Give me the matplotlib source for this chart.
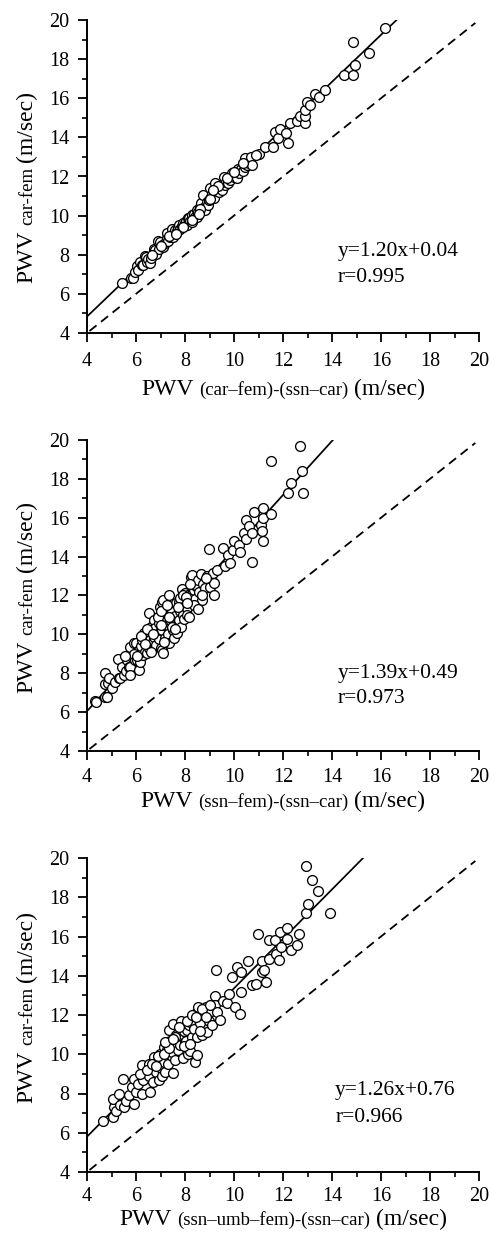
import matplotlib
matplotlib.use("Agg")
import matplotlib.pyplot as plt
import matplotlib.transforms as mtransforms
from matplotlib.ticker import MultipleLocator
import numpy as np

plt.rcParams['font.family'] = ['Liberation Serif', 'DejaVu Serif']

# ---------------- data ----------------
p1_x = [5.43, 5.81, 5.86, 5.97, 6.04, 6.10, 6.18, 6.23, 6.30, 6.38, 6.41, 6.45, 6.50, 6.57, 6.62,
        6.72, 6.78, 6.82, 6.88, 6.95, 6.98, 7.06, 7.11, 7.18, 7.25, 7.27, 7.32, 7.40, 7.45, 7.47,
        7.52, 7.55, 7.61, 7.68, 7.73, 7.74, 7.80, 7.86, 7.92, 8.01, 8.05, 8.07, 8.12, 8.15, 8.20,
        8.27, 8.29, 8.35, 8.40, 8.48, 8.49, 8.55, 8.62, 8.67, 8.72, 8.75, 8.83, 8.88, 8.92, 8.97,
        9.03, 9.08, 9.12, 9.18, 9.24, 9.30, 9.37, 9.42, 9.50, 9.58, 9.62, 9.68, 9.76, 9.82, 9.92,
        9.98, 10.05, 10.12, 10.16, 10.22, 10.30, 10.38, 10.44, 10.44, 10.52, 10.60, 10.69, 10.73,
        11.00, 11.28, 11.60, 11.66, 11.80, 11.86, 12.12, 12.20, 12.27, 12.57, 12.71, 12.88, 12.91,
        12.88, 12.98, 13.12, 13.30, 13.46, 13.73, 14.50, 14.84, 14.93, 14.84, 15.52, 16.18,
        6.65, 7.00, 7.35, 7.90, 8.30, 8.60, 9.00, 9.35, 9.70, 10.00, 10.35, 10.90, 7.62, 8.58, 9.15]
p1_y = [6.57, 6.79, 6.80, 7.13, 7.40, 7.22, 7.65, 7.48, 7.50, 7.94, 7.90, 7.65, 7.78, 7.60, 7.85,
        8.28, 8.24, 8.05, 8.72, 8.30, 8.67, 8.50, 8.41, 8.60, 8.84, 9.10, 8.70, 8.89, 9.00, 9.30,
        8.92, 9.10, 9.26, 9.20, 9.35, 9.52, 9.30, 9.45, 9.60, 9.60, 9.75, 9.52, 9.90, 9.86, 9.70,
        9.69, 10.03, 10.10, 9.95, 9.95, 10.29, 10.20, 10.45, 10.63, 11.05, 10.40, 10.29, 10.70, 10.55, 10.80,
        11.39, 10.95, 11.10, 10.90, 11.65, 11.25, 11.22, 11.40, 11.30, 11.99, 11.55, 11.70, 11.65, 11.80, 12.16,
        11.95, 12.10, 11.90, 12.36, 12.20, 12.40, 12.30, 12.93, 12.50, 12.60, 12.70, 13.00, 12.58,
        13.15, 13.52, 13.52, 14.29, 13.95, 14.43, 14.24, 13.70, 14.72, 14.83, 15.10, 14.72, 15.09,
        15.40, 15.80, 15.65, 16.20, 16.04, 16.42, 17.17, 17.17, 17.68, 18.86, 18.30, 19.60,
        8.00, 8.45, 8.95, 9.40, 9.80, 10.35, 10.85, 11.50, 11.90, 12.25, 12.70, 13.10, 9.05, 10.10, 11.30]

p2_x = [4.34, 4.37, 4.75, 4.80, 4.75, 4.87, 4.75, 4.88, 5.02, 5.16, 5.27, 5.29, 5.35, 5.43, 5.50,
        5.58, 5.63, 5.70, 5.76, 5.77, 5.77, 5.84, 5.90, 5.95, 6.00, 6.03, 6.08, 6.11, 6.11, 6.18,
        6.22, 6.24, 6.28, 6.31, 6.35, 6.41, 6.45, 6.48, 6.52, 6.55, 6.59, 6.62, 6.64, 6.68, 6.72,
        6.75, 6.79, 6.82, 6.88, 6.92, 6.95, 6.98, 7.00, 7.03, 7.06, 7.06, 7.06, 7.09, 7.11, 7.15,
        7.18, 7.22, 7.27, 7.30, 7.33, 7.36, 7.40, 7.42, 7.47, 7.50, 7.55, 7.58, 7.62, 7.67, 7.70,
        7.74, 7.74, 7.78, 7.80, 7.85, 7.88, 7.92, 7.95, 8.00, 8.04, 8.08, 8.08, 8.12, 8.16, 8.20,
        8.24, 8.27, 8.30, 8.35, 8.40, 8.45, 8.49, 8.54, 8.58, 8.65, 8.69, 8.75, 8.82, 8.90, 8.97,
        9.01, 9.05, 9.14, 9.17, 9.17, 9.30, 9.55, 9.65, 9.76, 9.85, 9.94, 9.99, 10.20, 10.26, 10.42,
        10.50, 10.50, 10.60, 10.73, 10.73, 10.83, 11.10, 11.14, 11.17, 11.18, 11.18, 11.51, 11.52,
        12.19, 12.34, 12.71, 12.78, 12.80,
        6.20, 6.45, 6.60, 6.90, 7.00, 7.15, 7.25, 7.45, 7.60, 7.72, 7.90, 8.05, 8.20, 8.35, 8.55,
        8.70, 8.85, 6.35, 6.70, 7.35, 5.90, 5.55, 6.05, 8.10, 7.00]
p2_y = [6.59, 6.54, 6.80, 6.79, 7.45, 7.48, 8.00, 7.74, 7.22, 7.57, 8.72, 7.74, 7.74, 8.34, 7.90,
        8.10, 8.68, 8.30, 8.34, 7.91, 9.37, 8.85, 9.57, 8.70, 9.54, 8.68, 9.05, 9.20, 8.17, 8.60,
        9.40, 9.71, 8.95, 10.06, 9.10, 9.74, 9.03, 9.55, 11.08, 9.30, 9.71, 10.40, 10.14, 9.60, 10.74,
        9.85, 10.31, 9.45, 10.00, 10.60, 9.75, 11.42, 10.20, 9.30, 11.68, 10.23, 9.20, 9.03, 11.77, 10.50,
        9.80, 10.90, 10.48, 10.00, 9.54, 12.03, 11.40, 10.70, 11.17, 10.20, 9.80, 10.95, 11.60, 10.06, 10.50,
        11.68, 10.74, 11.20, 11.85, 10.40, 12.32, 11.00, 10.80, 12.11, 11.50, 11.34, 11.00, 12.00, 10.90, 11.70,
        12.97, 13.05, 12.10, 12.28, 11.80, 12.50, 12.51, 12.80, 12.20, 13.09, 11.77, 12.60, 12.40, 13.00, 14.38,
        12.46, 12.90, 13.18, 12.63, 12.03, 13.30, 14.46, 13.52, 14.09, 13.66, 14.34, 14.82, 14.60, 14.26, 15.20,
        15.89, 14.91, 15.58, 15.20, 13.74, 16.32, 15.63, 15.32, 15.97, 16.49, 14.82, 18.94, 16.18,
        17.26, 17.77, 19.69, 18.43, 17.26,
        9.90, 10.30, 9.10, 10.90, 11.20, 9.60, 11.50, 10.40, 10.30, 11.40, 12.00, 11.90, 12.60, 11.50, 11.30,
        12.00, 12.90, 9.50, 10.00, 10.90, 9.00, 8.90, 8.90, 11.60, 10.50]

p3_x = [4.65, 5.06, 5.09, 5.06, 5.20, 5.29, 5.35, 5.47, 5.50, 5.60, 5.70, 5.84, 5.90, 5.90, 6.00,
        6.10, 6.24, 6.24, 6.24, 6.30, 6.40, 6.52, 6.55, 6.59, 6.62, 6.70, 6.75, 6.80, 6.85, 6.93,
        6.99, 7.00, 7.05, 7.10, 7.13, 7.13, 7.20, 7.25, 7.30, 7.33, 7.38, 7.40, 7.45, 7.47, 7.51,
        7.51, 7.55, 7.60, 7.65, 7.70, 7.75, 7.81, 7.85, 7.90, 7.95, 8.00, 8.05, 8.08, 8.12, 8.15,
        8.22, 8.22, 8.30, 8.35, 8.42, 8.49, 8.49, 8.49, 8.52, 8.60, 8.70, 8.75, 8.87, 8.90, 8.97,
        9.05, 9.10, 9.21, 9.21, 9.28, 9.31, 9.44, 9.55, 9.71, 9.78, 9.92, 10.05, 10.12, 10.23, 10.30,
        10.30, 10.56, 10.73, 10.90, 10.98, 11.14, 11.14, 11.21, 11.32, 11.41, 11.41, 11.66, 11.73,
        11.82, 11.89, 11.92, 12.16, 12.16, 12.33, 12.57, 12.67, 12.94, 12.94, 13.02, 13.18, 13.43, 13.93,
        6.15, 6.45, 6.65, 6.90, 7.15, 7.35, 7.60, 7.75, 7.95, 8.10, 8.30, 8.45, 8.70, 8.85, 9.00,
        7.20, 7.50, 6.80, 8.20, 8.60]
p3_y = [6.62, 6.82, 7.30, 7.72, 7.10, 7.98, 7.40, 8.74, 7.33, 7.60, 7.90, 8.32, 7.47, 8.74, 8.10,
        8.50, 7.98, 8.86, 9.46, 8.70, 9.10, 9.48, 8.90, 8.10, 9.30, 8.60, 9.85, 9.10, 9.60, 8.69,
        10.02, 9.30, 8.90, 9.80, 9.60, 10.39, 9.10, 10.20, 9.50, 11.24, 10.60, 10.70, 9.90, 10.11, 11.55,
        9.03, 10.40, 9.70, 11.00, 10.20, 10.80, 10.45, 11.67, 9.80, 11.20, 10.60, 10.70, 11.24, 10.00, 11.50,
        11.64, 10.19, 10.90, 11.30, 9.60, 12.15, 10.87, 9.94, 12.40, 11.60, 11.00, 12.00, 12.40, 11.13, 11.69,
        12.20, 11.50, 12.95, 12.49, 14.31, 12.15, 11.76, 12.70, 12.60, 13.08, 13.93, 12.40, 14.44, 12.03, 14.19,
        13.17, 14.73, 13.51, 13.59, 16.11, 14.75, 14.19, 14.31, 13.68, 15.80, 14.87, 15.80, 15.12,
        14.78, 16.23, 15.46, 16.43, 15.89, 15.29, 15.55, 16.11, 17.20, 19.60, 17.67, 18.86, 18.32, 17.20,
        9.00, 9.20, 9.50, 9.90, 10.00, 10.30, 10.90, 11.40, 10.40, 11.70, 12.00, 11.90, 12.30, 11.90, 12.50,
        10.60, 10.80, 9.40, 10.50, 11.20]

slopes = [1.20, 1.39, 1.26]
intercepts = [0.04, 0.49, 0.76]
eq_texts = ["y=1.20x+0.04", "y=1.39x+0.49", "y=1.26x+0.76"]
r_texts = ["r=0.995", "r=0.973", "r=0.966"]
x_subs = ["(car\u2013fem)-(ssn\u2013car)", "(ssn\u2013fem)-(ssn\u2013car)", "(ssn\u2013umb\u2013fem)-(ssn\u2013car)"]
y_sub = "car-fem"
ticks = [4, 6, 8, 10, 12, 14, 16, 18, 20]

# --------------- layout (pixels) ---------------
W, H = 491, 1239
fig = plt.figure(figsize=(W / 100, H / 100), dpi=100)

axes_px = [(87, 479, 20, 333), (87, 479, 440, 751), (87, 479, 858, 1172)]
eq_pos = [(0.640, 0.246, 0.163), (0.640, 0.235, 0.154), (0.633, 0.245, 0.159)]
xlabel_base = [395, 807, 1225]     # baseline y from top
ylabel_center = [187, 597, 1007]   # centre y from top
xpads = [7, 6, 4.5]

datasets = [(p1_x, p1_y), (p2_x, p2_y), (p3_x, p3_y)]

MAIN = 17
SUB = 13.5
ident = mtransforms.IdentityTransform()

label_groups = []

for i, (l, r, t, b) in enumerate(axes_px):
    ax = fig.add_axes([l / W, 1 - b / H, (r - l) / W, (b - t) / H])
    xs, ys = datasets[i]
    ax.set_xlim(4, 20)
    ax.set_ylim(4, 20)
    # identity (dashed)
    ax.plot([4.1, 19.85], [4.1, 19.85], ls=(0, (5, 3.2)), color='black', lw=1.3)
    # regression line
    xe = (20 - intercepts[i]) / slopes[i]
    xl = np.array([4.0, xe])
    ax.plot(xl, slopes[i] * xl + intercepts[i], color='black', lw=1.25)
    ax.scatter(xs, ys, s=50, facecolors='white', edgecolors='black', linewidths=0.95, zorder=3)

    for sp in ['top', 'right']:
        ax.spines[sp].set_visible(False)
    for sp in ['left', 'bottom']:
        ax.spines[sp].set_linewidth(1.4)
    ax.set_xticks(ticks)
    ax.set_yticks(ticks)
    ax.xaxis.set_minor_locator(MultipleLocator(1))
    ax.yaxis.set_minor_locator(MultipleLocator(1))
    ax.tick_params(which='major', direction='out', length=6.5, width=1.3, labelsize=14.5)
    ax.tick_params(which='minor', direction='out', length=3.5, width=1.2)
    ax.tick_params(axis='x', which='major', pad=xpads[i])
    ax.tick_params(axis='y', which='major', pad=6)

    ex, ey1, ey2 = eq_pos[i]
    ax.text(ex, ey1, eq_texts[i], transform=ax.transAxes, fontsize=15.5, va='baseline', ha='left')
    ax.text(ex, ey2, r_texts[i], transform=ax.transAxes, fontsize=15.5, va='baseline', ha='left')

    xl_parts = [fig.text(0, 0, "PWV", fontsize=MAIN, transform=ident, va='baseline', ha='left'),
                fig.text(0, 0, x_subs[i], fontsize=SUB, transform=ident, va='baseline', ha='left'),
                fig.text(0, 0, "(m/sec)", fontsize=MAIN, transform=ident, va='baseline', ha='left')]
    yl_parts = [fig.text(0, 0, "PWV", fontsize=MAIN, transform=ident, va='baseline', ha='left',
                         rotation=90, rotation_mode='anchor'),
                fig.text(0, 0, y_sub, fontsize=SUB, transform=ident, va='baseline', ha='left',
                         rotation=90, rotation_mode='anchor'),
                fig.text(0, 0, "(m/sec)", fontsize=MAIN, transform=ident, va='baseline', ha='left',
                         rotation=90, rotation_mode='anchor')]
    label_groups.append((i, xl_parts, yl_parts))

fig.canvas.draw()
renderer = fig.canvas.get_renderer()
GAP = 5.5

for i, xl_parts, yl_parts in label_groups:
    l, r, t, b = axes_px[i]
    widths = [p.get_window_extent(renderer).width for p in xl_parts]
    total = sum(widths) + GAP * (len(widths) - 1)
    x0 = (l + r) / 2 - total / 2
    ybase = H - xlabel_base[i]
    for p, w in zip(xl_parts, widths):
        p.set_position((x0, ybase))
        x0 += w + GAP
    heights = [p.get_window_extent(renderer).height for p in yl_parts]
    total = sum(heights) + GAP * (len(heights) - 1)
    yc = H - ylabel_center[i]
    y0 = yc - total / 2
    for p, hh in zip(yl_parts, heights):
        p.set_position((32, y0))
        y0 += hh + GAP

fig.savefig("out.png", dpi=100)
